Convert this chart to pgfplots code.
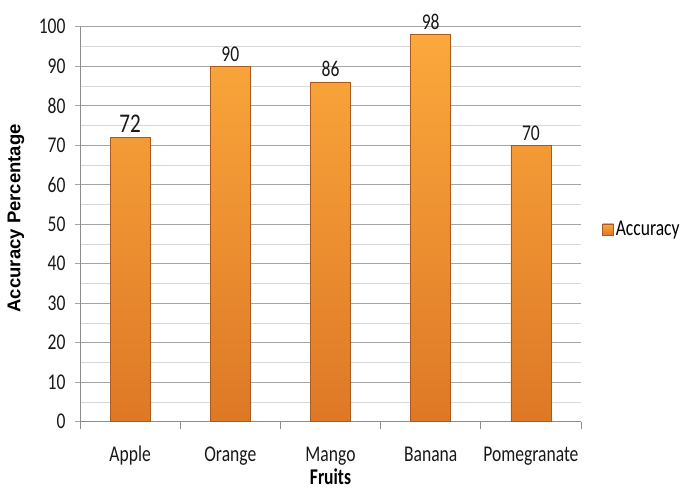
\documentclass[border=0pt]{standalone}
\usepackage{fontspec}
\setmainfont{Carlito}[FakeStretch=0.78]
\newfontfamily\labfont{Liberation Sans}
\usepackage{pgfplots}
\pgfplotsset{compat=1.18}

\definecolor{bartop}{RGB}{251,168,60}
\definecolor{barbot}{RGB}{222,120,38}
\definecolor{baredge}{RGB}{170,90,30}
\definecolor{gridmaj}{RGB}{165,165,165}
\definecolor{gridmin}{RGB}{215,215,215}
\definecolor{axisgray}{RGB}{140,140,140}

\begin{document}
\begin{tikzpicture}
\begin{axis}[
    scale only axis,
    width=501pt, height=395pt,
    xmin=-0.5, xmax=4.5,
    ymin=0, ymax=100,
    axis x line*=bottom,
    axis y line*=left,
    axis line style={axisgray, line width=0.8pt},
    ybar, bar width=40pt,
    xtick={0,1,2,3,4},
    xticklabels={Apple,Orange,Mango,Banana,Pomegranate},
    major x tick style={draw=none},
    extra x ticks={-0.5,0.5,1.5,2.5,3.5,4.5},
    extra x tick labels={},
    extra x tick style={grid=none, tick align=outside, major tick length=7pt,
        major x tick style={draw=axisgray, line width=0.8pt}},
    ytick={0,10,...,100},
    minor y tick num=1,
    minor tick length=0pt,
    tick align=outside,
    major tick length=5pt,
    major y tick style={draw=gridmaj, line width=0.8pt},
    ymajorgrids, yminorgrids,
    major grid style={gridmaj, line width=0.8pt},
    minor grid style={gridmin, line width=0.8pt},
    tick label style={font=\fontsize{22.5}{26}\selectfont, text=black!90},
    /pgf/number format/assume math mode=true,
    xticklabel style={anchor=base, yshift=-35pt},
    yticklabel style={anchor=east, xshift=-6pt},
    xlabel={\bfseries Fruits},
    xlabel style={font=\fontsize{22.5}{26}\selectfont, at={(axis description cs:0.5,0)}, anchor=base, yshift=-63pt, inner sep=0pt},
    ylabel={Accuracy Percentage},
    ylabel style={font=\labfont\bfseries\fontsize{18.5}{20}\selectfont, at={(axis description cs:-0.128,0.515)}, anchor=center},
    nodes near coords={\ifnum\coordindex=0 \fontsize{27}{27}\selectfont\fi\pgfmathprintnumber{\pgfplotspointmeta}},
    every node near coord/.append style={font=\fontsize{22.5}{26}\selectfont, anchor=base, yshift=5pt, text=black!90},
    legend style={at={(axis description cs:1,0.487)}, anchor=west, draw=none, fill=none,
        inner sep=0pt, xshift=21pt, font=\fontsize{22.5}{26}\selectfont,
        /tikz/every even column/.append style={column sep=0pt}},
    legend image code/.code={\fill[top color=bartop, bottom color=barbot, draw=baredge]
        (0pt,-5.5pt) rectangle (11pt,5.5pt);},
    clip=false,
]
\addplot[draw=baredge, top color=bartop, bottom color=barbot, line width=0.6pt]
    coordinates {(0,72) (1,90) (2,86) (3,98) (4,70)};
\addlegendentry{Accuracy}
\end{axis}
\pgfresetboundingbox
\path (current axis.south west) ++(-80pt,-67.3pt) rectangle ++(685pt,489pt);
\end{tikzpicture}
\end{document}
